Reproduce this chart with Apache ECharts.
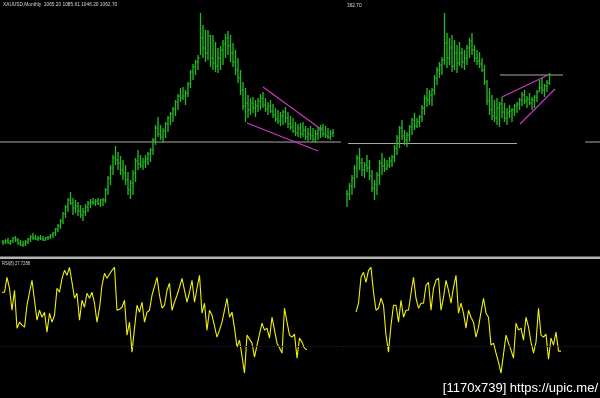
<!DOCTYPE html>
<html><head><meta charset="utf-8">
<script src="https://cdn.jsdelivr.net/npm/echarts@6/dist/echarts.min.js"></script>
<style>html,body{margin:0;padding:0;background:#000}#c{width:600px;height:398px}</style>
</head><body><div id="c"></div>
<script>
// Price values are in chart units (height above the pane bottom); RSI in RSI units.
const leftHigh = [18,19,20,18,21,22,20,18,17,18, 20,23,25,23,22,23,22,21,22,24, 26,30,34,39,46,53,60,66,60,58, 56,53,50,54,57,59,60,59,60,59, 60,70,82,93,103,112,106,102,98,93, 86,78,88,100,108,103,100,103,106,110, 120,133,141,133,130,136,142,146,151,158, 164,170,171,168,176,188,194,198,203,245, 233,228,228,223,223,216,210,212,218,224, 227,223,215,208,200,188,176,170,163,160, 161,158,160,164,166,160,156,158,154,150, 148,146,148,151,146,142,140,136,134,135, 136,132,130,132,130,128,131,133,134,132, 130,128,129];
const leftLow = [13,14,14,13,15,16,13,12,11,12, 14,16,18,18,17,18,17,17,18,19, 20,22,26,29,34,40,46,53,43,45, 42,40,37,42,46,50,53,52,53,51, 52,55,63,73,83,93,88,83,78,73, 63,59,63,76,88,90,88,90,93,96, 103,113,121,118,115,120,126,133,136,142, 148,156,158,153,161,170,178,183,188,203, 200,196,198,191,188,186,185,188,193,200, 203,196,191,183,175,163,148,136,140,143, 145,141,146,148,150,146,143,145,140,136, 134,132,133,135,130,128,125,122,121,120, 121,118,117,118,116,115,118,120,121,120, 119,118,121];
const leftClose = [16,17,15,17,20,18,15,13,14,16, 19,21,20,19,20,19,18,20,21,23, 25,29,32,37,44,51,58,55,50,52, 47,43,46,51,55,56,55,57,54,58, 58,68,80,90,100,98,95,88,85,78, 68,75,85,97,94,92,96,99,104,108, 118,130,124,121,127,134,140,144,149,156, 162,160,162,165,174,186,191,196,200,220, 210,205,222,200,195,192,200,208,214,220, 212,205,196,188,180,168,152,155,148,155, 150,152,157,160,153,149,152,147,143,139, 137,142,146,140,134,131,127,125,130,124, 128,121,124,122,119,124,128,130,124,122, 121,125,126];

const rightHigh = [68,75,83,93,103,110,100,96,103,98, 88,78,86,98,105,100,98,101,103,113, 123,132,138,128,126,133,140,145,140,143, 153,163,170,168,170,183,191,196,201,245, 225,220,223,218,213,216,210,208,213,220, 225,213,208,206,200,193,178,170,163,158, 160,156,161,155,150,153,150,154,156,160, 166,168,162,165,161,163,168,178,180,174, 178,185];
const rightLow = [51,58,63,70,80,88,82,80,86,78, 66,58,63,73,83,86,88,90,91,96, 103,110,118,113,111,116,123,128,130,131, 136,143,151,153,152,163,173,180,183,193, 190,193,186,188,185,192,190,188,193,200, 203,196,193,190,186,173,153,143,138,136, 133,131,140,136,133,140,136,142,145,148, 152,154,150,153,148,150,156,166,164,161, 166,173];
const rightClose = [64,72,80,90,100,95,88,93,90,82, 70,74,83,95,92,89,93,97,101,110, 120,130,122,118,123,131,138,132,136,141, 150,160,158,163,168,180,188,193,198,215, 200,210,192,205,195,205,196,200,210,217, 208,200,197,194,188,176,157,148,142,140, 150,154,146,140,145,147,148,152,154,158, 163,157,159,155,158,161,166,170,168,172, 175,183];

const leftRsi = [62.4,62.4,71.4,64.8,51.6,63.6,40.8,44.4,42.6,41.4, 54.6,62.4,69.6,57.6,45.6,51.6,47.4,50.4,38.4,49.8, 44.4,48.6,64.8,62.4,70.8,75.6,72.6,77.4,68.4,58.8, 61.8,45.6,57.6,53.4,61.8,58.8,62.4,55.8,44.4,52.8, 66.6,73.8,70.8,73.2,75.6,77.4,51.6,52.2,53.4,57.6, 36.6,44.4,26.4,40.8,54.6,50.4,56.4,44.4,50.4,51.6, 60.6,66,71.4,60.6,52.8,54.6,63.6,67.8,51.6,56.4, 60.6,65.4,70.8,63.6,56.4,62.4,69.6,56.4,64.8,72.6, 49.8,55.8,39.6,51.6,48.6,42,35.4,39.6,44.4,51.6, 58.8,47.4,50.4,40.8,29.4,33.6,24,13.8,36.6,34.2, 31.8,23.4,30.6,37.2,43.8,39.6,40.8,34.8,47.4,39.6, 31.8,28.8,25.8,52.8,44.4,36.6,35.4,37.2,22.8,34.8, 32.4,28.8,27.7288];
const rightRsi = [50.4,55.8,71.4,74.4,68.4,75.6,77.4,62.4,51.6,52.8, 58.8,54.6,36.6,26.4,42.6,54.6,54.6,44.4,57.6,47.4, 51.6,51.6,61.8,71.4,58.8,52.8,55.8,55.8,66.6,68.4, 51.6,64.8,69.6,70.8,51.6,59.4,69.6,63.6,55.8,65.4, 72.6,49.8,55.8,49.8,40.8,51.6,47.4,44.4,35.4,41.4, 50.4,58.8,49.8,47.4,30.6,31.8,25.8,20.4,13.8,25.2, 36.6,31.8,27.6,22.8,43.8,39.6,40.8,33.6,47.4,41.4, 32.4,25.8,32.4,52.8,36.6,35.4,37.2,22.2,34.8,30.6, 38.4,27,27];

// horizontal levels: [price, fromBar, toBar]
const leftLevels = [[116, -1.2, 135.2]];
const rightLevels = [[114.5, 0.4, 68], [116, 95.2, 101.2], [183, 61.2, 86.4]];
// trend lines: [fromBar, fromPrice, toBar, toPrice]
const leftTrends = [[104, 171, 127.6, 128], [97.6, 135, 126, 107]];
const rightTrends = [[62, 161, 80.4, 183], [69.2, 134, 83.2, 169]];
const rsiLevel = 30;
const titleText = 'XAUUSD,Monthly  1065.20 1085.61 1046.20 1062.70';
const rightTitle = '362.70';
const rsiTitle = 'RSI(8) 27.7288';
const watermark = '[1170x739] https://upic.me/';

const BAR = '#25b825';
function ohlc(high, low, close) {
  return high.map((h, i) => [i, i ? close[i - 1] : close[i], close[i], low[i], h]);
}
function renderBar(params, api) {
  const x = api.value(0);
  const pH = api.coord([x, api.value(4)]);
  const pL = api.coord([x, api.value(3)]);
  const pO = api.coord([x, api.value(1)]);
  const pC = api.coord([x, api.value(2)]);
  const px = pH[0];
  const st = { stroke: BAR, lineWidth: 1.35 };
  const st2 = { stroke: BAR, lineWidth: 1 };
  return { type: 'group', children: [
    { type: 'line', shape: { x1: px, y1: pH[1], x2: px, y2: pL[1] }, style: st },
    { type: 'line', shape: { x1: px - 1.2, y1: pO[1], x2: px, y2: pO[1] }, style: st2 },
    { type: 'line', shape: { x1: px, y1: pC[1], x2: px + 1.2, y2: pC[1] }, style: st2 }
  ]};
}
function lineSeries(data, xi, color, width, type) {
  return { type: 'line', xAxisIndex: xi, yAxisIndex: xi, data: data, symbol: 'none', silent: true,
    lineStyle: { color: color, width: width, type: type || 'solid' }, z: 1 };
}
const series = [
  { type: 'custom', xAxisIndex: 0, yAxisIndex: 0, data: ohlc(leftHigh, leftLow, leftClose), renderItem: renderBar, encode: { x: 0, y: [1, 2, 3, 4] }, clip: false, silent: true, z: 2 },
  { type: 'custom', xAxisIndex: 1, yAxisIndex: 1, data: ohlc(rightHigh, rightLow, rightClose), renderItem: renderBar, encode: { x: 0, y: [1, 2, 3, 4] }, clip: false, silent: true, z: 2 }
];
leftLevels.forEach(l => series.push(lineSeries([[l[1], l[0]], [l[2], l[0]]], 0, '#a8a8a8', 1)));
rightLevels.forEach(l => series.push(lineSeries([[l[1], l[0]], [l[2], l[0]]], 1, '#a8a8a8', 1)));
leftTrends.forEach(t => series.push(lineSeries([[t[0], t[1]], [t[2], t[3]]], 0, '#c83cc8', 1.1)));
rightTrends.forEach(t => series.push(lineSeries([[t[0], t[1]], [t[2], t[3]]], 1, '#c83cc8', 1.1)));
[[leftRsi, 2], [rightRsi, 3]].forEach(([arr, gi]) => {
  const s = lineSeries(arr.map((v, i) => [i, v]), gi, '#f0f00a', 1.1);
  s.z = 3;
  s.markLine = { silent: true, symbol: 'none', label: { show: false },
    lineStyle: { color: '#1c1c3c', type: 'dotted', width: 1 }, data: [{ yAxis: rsiLevel }] };
  series.push(s);
});

const chart = echarts.init(document.getElementById('c'), null, { renderer: 'canvas' });
chart.setOption({
  backgroundColor: '#000',
  animation: false,
  grid: [
    { left: 0, top: 0, width: 347, height: 258 },
    { left: 345, top: 0, width: 255, height: 258 },
    { left: 0, top: 263, width: 343, height: 133 },
    { left: 343, top: 263, width: 257, height: 133 }
  ],
  xAxis: [
    { gridIndex: 0, type: 'value', min: -1.2, max: 137.6, show: false },
    { gridIndex: 1, type: 'value', min: -0.8, max: 101.2, show: false },
    { gridIndex: 2, type: 'value', min: -0.8, max: 136.4, show: false },
    { gridIndex: 3, type: 'value', min: -5.2, max: 97.6, show: false }
  ],
  yAxis: [
    { gridIndex: 0, type: 'value', min: 0, max: 258, show: false },
    { gridIndex: 1, type: 'value', min: 0, max: 258, show: false },
    { gridIndex: 2, type: 'value', min: 0, max: 80, show: false },
    { gridIndex: 3, type: 'value', min: 0, max: 80, show: false }
  ],
  graphic: [
    { type: 'rect', shape: { x: 0, y: 256.5, width: 600, height: 2.5 }, style: { fill: '#b4b4b4' }, silent: true },
    { type: 'text', x: 3, y: 1, scaleX: 0.8, style: { text: titleText, fill: '#d8d8d8', fontSize: 6, fontFamily: 'Liberation Sans' } },
    { type: 'text', x: 347, y: 2, scaleX: 0.8, style: { text: rightTitle, fill: '#d8d8d8', fontSize: 6, fontFamily: 'Liberation Sans' } },
    { type: 'text', x: 2, y: 260, scaleX: 0.75, style: { text: rsiTitle, fill: '#d8d8d8', fontSize: 5.5, fontFamily: 'Liberation Sans' } },
    { type: 'text', x: 598, y: 395, style: { text: watermark, fill: '#ffffff', fontSize: 13, fontFamily: 'Liberation Sans', align: 'right', verticalAlign: 'bottom' } }
  ],
  series: series
});
</script></body></html>
